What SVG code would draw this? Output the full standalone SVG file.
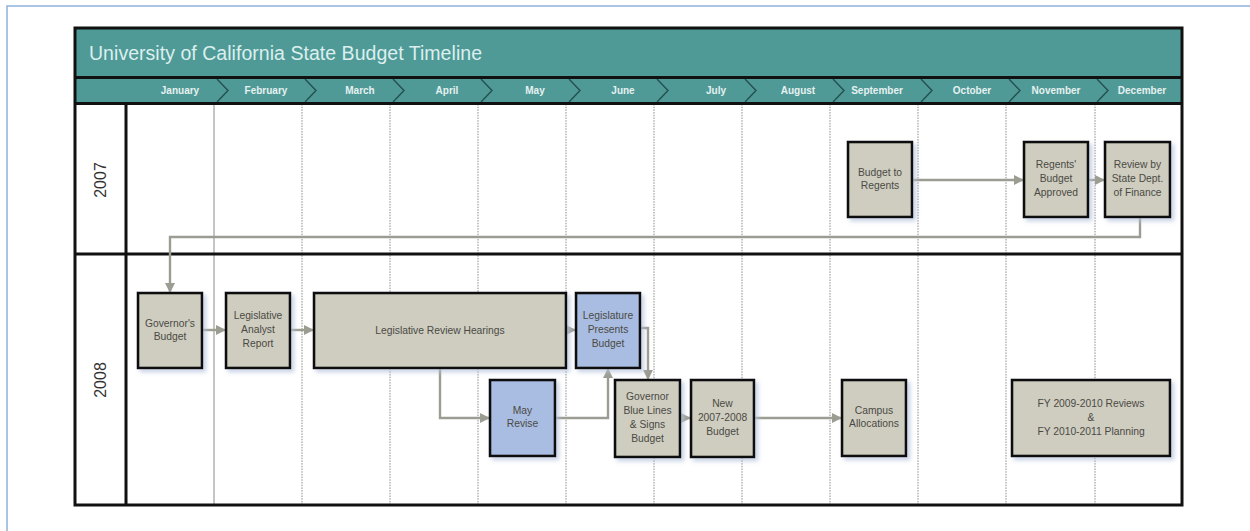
<svg xmlns="http://www.w3.org/2000/svg" width="1250" height="531" viewBox="0 0 1250 531">
  <style>
    .frame { fill: none; stroke: #8fb1dc; stroke-width: 1.5; }
    .band { fill: #4f9a97; }
    .rule { stroke: #111; stroke-width: 3; fill: none; }
    .title { font-family: "Liberation Sans", Arial, sans-serif; font-size: 19.5px; fill: #dcefee; }
    .month { font-family: "Liberation Sans", Arial, sans-serif; font-size: 10px; font-weight: bold; fill: #e6f1f0; text-anchor: middle; }
    .chev { fill: none; stroke: #24504e; stroke-width: 1.4; }
    .col { stroke: #8a8a8a; stroke-width: 1; stroke-dasharray: 1.5 1.2; }
    .col-solid { stroke: #8a8a8a; stroke-width: 1; }
    .year { font-family: "Liberation Sans", Arial, sans-serif; font-size: 16px; fill: #333; text-anchor: middle; }
    .node rect { fill: #cfcdc0; stroke: #111; stroke-width: 2.6; filter: url(#shadow); }
    .node.blue rect { fill: #a9bde2; }
    .node text { font-family: "Liberation Sans", Arial, sans-serif; font-size: 10.3px; fill: #4a4a44; text-anchor: middle; }
    .conn { fill: none; stroke: #9c9d92; stroke-width: 2.4; marker-end: url(#arrow); }
  </style>
  <defs>
    <filter id="shadow" x="-20%" y="-20%" width="150%" height="150%">
      <feDropShadow dx="3" dy="3" stdDeviation="2" flood-color="#b4c2dc" flood-opacity="0.7"/>
    </filter>
    <marker id="arrow" markerUnits="userSpaceOnUse" markerWidth="10" markerHeight="10" refX="10" refY="5" orient="auto">
      <path d="M0,0 L10,5 L0,10 z" fill="#9c9d92"/>
    </marker>
  </defs>

  <!-- page frame -->
  <path class="frame" d="M7,531 L7,6 L1250,6"/>

  <!-- title and month bands -->
  <rect class="band" x="75" y="28" width="1107" height="49"/>
  <rect class="band" x="75" y="78" width="1107" height="25"/>
  <text class="title" x="89" y="60" textLength="393">University of California State Budget Timeline</text>

  <g id="month-chevrons">
    <polyline class="chev" points="217,79 228,90.5 217,102"/>
    <polyline class="chev" points="305,79 316,90.5 305,102"/>
    <polyline class="chev" points="393,79 404,90.5 393,102"/>
    <polyline class="chev" points="481,79 492,90.5 481,102"/>
    <polyline class="chev" points="569,79 580,90.5 569,102"/>
    <polyline class="chev" points="657,79 668,90.5 657,102"/>
    <polyline class="chev" points="745,79 756,90.5 745,102"/>
    <polyline class="chev" points="833,79 844,90.5 833,102"/>
    <polyline class="chev" points="921,79 932,90.5 921,102"/>
    <polyline class="chev" points="1009,79 1020,90.5 1009,102"/>
    <polyline class="chev" points="1097,79 1108,90.5 1097,102"/>
  </g>
  <g id="month-labels">
    <text class="month" x="180" y="94">January</text>
    <text class="month" x="266" y="94">February</text>
    <text class="month" x="360" y="94">March</text>
    <text class="month" x="447" y="94">April</text>
    <text class="month" x="535" y="94">May</text>
    <text class="month" x="623" y="94">June</text>
    <text class="month" x="716" y="94">July</text>
    <text class="month" x="798" y="94">August</text>
    <text class="month" x="877" y="94">September</text>
    <text class="month" x="972" y="94">October</text>
    <text class="month" x="1056" y="94">November</text>
    <text class="month" x="1142" y="94">December</text>
  </g>

  <!-- month columns -->
  <g id="columns">
    <line class="col-solid" x1="214" y1="104" x2="214" y2="505"/>
    <line class="col" x1="302" y1="104" x2="302" y2="505"/>
    <line class="col" x1="390" y1="104" x2="390" y2="505"/>
    <line class="col" x1="478" y1="104" x2="478" y2="505"/>
    <line class="col" x1="566" y1="104" x2="566" y2="505"/>
    <line class="col" x1="654" y1="104" x2="654" y2="505"/>
    <line class="col" x1="742" y1="104" x2="742" y2="505"/>
    <line class="col" x1="830" y1="104" x2="830" y2="505"/>
    <line class="col" x1="918" y1="104" x2="918" y2="505"/>
    <line class="col" x1="1006" y1="104" x2="1006" y2="505"/>
    <line class="col" x1="1095" y1="104" x2="1095" y2="505"/>
  </g>

  <!-- grid rules -->
  <line class="rule" x1="75" y1="77.5" x2="1182" y2="77.5"/>
  <line class="rule" x1="75" y1="103.5" x2="1182" y2="103.5"/>
  <line class="rule" x1="75" y1="254" x2="1182" y2="254"/>
  <line class="rule" x1="126" y1="104" x2="126" y2="505"/>
  <rect class="rule" x="75" y="28" width="1107" height="477"/>

  <!-- year rows -->
  <text class="year" transform="translate(106,180) rotate(-90)">2007</text>
  <text class="year" transform="translate(106,380) rotate(-90)">2008</text>

  <!-- connectors -->
  <g id="connectors">
    <path class="conn" d="M913,180 L1024,180"/>
    <path class="conn" d="M1088,180 L1105,180"/>
    <path class="conn" d="M1140,217 L1140,237 L170,237 L170,293"/>
    <path class="conn" d="M202,330 L226,330"/>
    <path class="conn" d="M290,330 L314,330"/>
    <path class="conn" d="M566,330 L576,330"/>
    <path class="conn" d="M440,368 L440,418 L490,418"/>
    <path class="conn" d="M555,418 L608,418 L608,368"/>
    <path class="conn" d="M640,328 L648,328 L648,380"/>
    <path class="conn" d="M680,418 L691,418"/>
    <path class="conn" d="M754,418 L842,418"/>
  </g>

  <!-- 2007 nodes -->
  <g id="budget-to-regents" class="node">
    <rect x="848" y="142" width="64" height="75"/>
    <text x="880" y="176">Budget to</text>
    <text x="880" y="189">Regents</text>
  </g>
  <g id="regents-budget-approved" class="node">
    <rect x="1024" y="142" width="64" height="75"/>
    <text x="1056" y="168">Regents'</text>
    <text x="1056" y="182">Budget</text>
    <text x="1056" y="196">Approved</text>
  </g>
  <g id="review-state-dept-finance" class="node">
    <rect x="1105" y="142" width="65" height="75"/>
    <text x="1137.5" y="168">Review by</text>
    <text x="1137.5" y="182">State Dept.</text>
    <text x="1137.5" y="196">of Finance</text>
  </g>

  <!-- 2008 nodes -->
  <g id="governors-budget" class="node">
    <rect x="138" y="293" width="64" height="75"/>
    <text x="170" y="327">Governor's</text>
    <text x="170" y="340">Budget</text>
  </g>
  <g id="legislative-analyst-report" class="node">
    <rect x="226" y="293" width="64" height="75"/>
    <text x="258" y="319">Legislative</text>
    <text x="258" y="333">Analyst</text>
    <text x="258" y="347">Report</text>
  </g>
  <g id="legislative-review-hearings" class="node">
    <rect x="314" y="293" width="252" height="75"/>
    <text x="440" y="334" font-size="11.5">Legislative Review Hearings</text>
  </g>
  <g id="legislature-presents-budget" class="node blue">
    <rect x="576" y="293" width="64" height="75"/>
    <text x="608" y="319">Legislature</text>
    <text x="608" y="333">Presents</text>
    <text x="608" y="347">Budget</text>
  </g>
  <g id="may-revise" class="node blue">
    <rect x="490" y="380" width="65" height="76"/>
    <text x="522.5" y="414">May</text>
    <text x="522.5" y="427">Revise</text>
  </g>
  <g id="governor-blue-lines" class="node">
    <rect x="615" y="380" width="65" height="77"/>
    <text x="647.5" y="400">Governor</text>
    <text x="647.5" y="414">Blue Lines</text>
    <text x="647.5" y="428">&amp; Signs</text>
    <text x="647.5" y="442">Budget</text>
  </g>
  <g id="new-budget" class="node">
    <rect x="691" y="380" width="63" height="77"/>
    <text x="722.5" y="407">New</text>
    <text x="722.5" y="421">2007-2008</text>
    <text x="722.5" y="435">Budget</text>
  </g>
  <g id="campus-allocations" class="node">
    <rect x="842" y="380" width="64" height="76"/>
    <text x="874" y="414">Campus</text>
    <text x="874" y="427">Allocations</text>
  </g>
  <g id="fy-reviews-planning" class="node">
    <rect x="1012" y="380" width="158" height="76"/>
    <text x="1091" y="407" font-size="11">FY 2009-2010 Reviews</text>
    <text x="1091" y="421" font-size="11">&amp;</text>
    <text x="1091" y="435" font-size="11">FY 2010-2011 Planning</text>
  </g>
</svg>
